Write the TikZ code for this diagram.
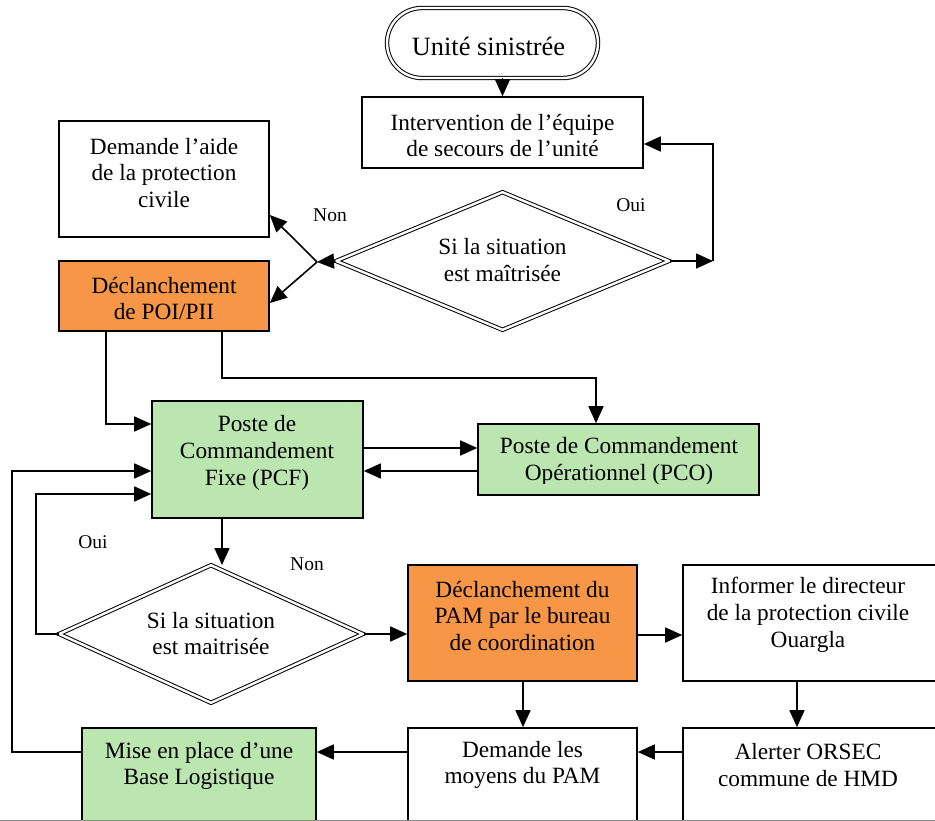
\documentclass[tikz,border=0pt]{standalone}
\usepackage{fontspec}
\setmainfont{Liberation Serif}
\usetikzlibrary{arrows.meta,shapes.geometric}
\definecolor{orangebox}{RGB}{247,150,70}
\definecolor{greenbox}{RGB}{188,230,176}
\begin{document}
\begin{tikzpicture}[x=1pt,y=-1pt,
  box/.style={draw=black,line width=1.6pt,rectangle,inner sep=0pt},
  txt/.style={align=center,inner sep=0pt,font=\fontsize{23.3}{26.8}\selectfont},
  lbl/.style={inner sep=0pt,font=\fontsize{19.5}{22}\selectfont},
  arr/.style={draw=black,line width=1.6pt,-{Triangle[length=17pt,width=15pt]}},
  dbl/.style={draw=black,double=white,double distance=2.4pt,line width=1pt,inner sep=0pt}
]
\useasboundingbox (0,0) rectangle (935,821);
\clip (0,0) rectangle (935,821);

% boxes
\node[dbl,rectangle,rounded corners=35pt,minimum width=211pt,minimum height=70pt] (term) at (492.5,43) {};
\node[box,minimum width=281pt,minimum height=71pt] (interv) at (502.5,132.5) {};
\node[dbl,diamond,minimum width=333pt,minimum height=138pt] (d1) at (502.5,261) {};
\node[box,minimum width=210pt,minimum height=116pt] (aide) at (164,179) {};
\node[box,fill=orangebox,minimum width=210pt,minimum height=70pt] (poi) at (164,296) {};
\node[box,fill=greenbox,minimum width=211pt,minimum height=117pt] (pcf) at (257.5,459.5) {};
\node[box,fill=greenbox,minimum width=281pt,minimum height=71pt] (pco) at (618.5,459.5) {};
\node[dbl,diamond,minimum width=304pt,minimum height=138pt] (d2) at (211,634) {};
\node[box,fill=orangebox,minimum width=229pt,minimum height=116pt] (pam) at (522.5,623) {};
\node[box,minimum width=262pt,minimum height=116pt] (inf) at (814,623) {};
\node[box,minimum width=229pt,minimum height=100pt] (moy) at (522.5,778) {};
\node[box,minimum width=262pt,minimum height=100pt] (alert) at (814,778) {};
\node[box,fill=greenbox,minimum width=234pt,minimum height=100pt] (mise) at (199,778) {};
\draw[draw=black!45,line width=0.8pt] (0,820.5) -- (935,820.5);

% texts
\node[txt,font=\fontsize{26.4}{30}\selectfont] (tterm) at (488.5,46) {Unité sinistrée};
\node[txt] (tinterv) at (502.5,135.5) {Intervention de l’équipe\\de secours de l’unité};
\node[txt] (td1) at (502.5,260) {Si la situation\\est maîtrisée};
\node[txt] (taide) at (164,173) {Demande l’aide\\de la protection\\civile};
\node[txt] (tpoi) at (164,298.5) {Déclanchement\\de POI/PII};
\node[txt] (tpcf) at (257,453) {Poste de\\Commandement\\Fixe (PCF)};
\begin{scope}
\clip (478,424) rectangle (759,483);
\node[txt] (tpco) at (619,461.5) {Poste de Commandement\\Opérationnel (PCO)};
\end{scope}
\node[txt] (td2) at (211,633.5) {Si la situation\\est maitrisée};
\node[txt] (tpam) at (522.5,616) {Déclanchement du\\PAM par le bureau\\de coordination};
\node[txt] (tinf) at (808,615) {Informer le directeur\\de la protection civile\\Ouargla};
\node[txt] (tmoy) at (522.5,765) {Demande les\\moyens du PAM};
\node[txt] (talert) at (808,765) {Alerter ORSEC\\commune de HMD};
\node[txt] (tmise) at (199,766) {Mise en place d’une\\Base Logistique};

% labels
\node[lbl] (lnon1) at (330,215) {Non};
\node[lbl] (loui1) at (631,205) {Oui};
\node[lbl] (loui2) at (93,542) {Oui};
\node[lbl] (lnon2) at (307,564) {Non};

% coordinates
\coordinate (c1) at (713,261);
\coordinate (c1b) at (713,144);
\coordinate (nj) at (317,262);

% connectors
\draw[arr] (term.south -| interv.north) -- (interv.north);
\draw[arr] (d1.east) -- (c1);
\draw[arr] (c1) -- (c1b) -- (interv.east |- c1b);
\draw[arr] (d1.west) -- (nj);
\draw[arr] (nj) -- (aide.east |- 0,215);
\draw[arr] (nj) -- (poi.east |- 0,303);
\draw[arr] (poi.south -| 106,0) |- (pcf.west |- 0,424);
\draw[arr] (poi.south -| 222,0) -- (222,378) -| (pco.north -| 596,0);
\draw[arr] (pcf.east |- 0,448) -- (pco.west |- 0,448);
\draw[arr] (pco.west |- 0,471) -- (pcf.east |- 0,471);
\draw[arr] (pcf.south -| 222,0) -- (222,565);
\draw[arr] (d2.west) -- (36,634) |- (pcf.west |- 0,494);
\draw[arr] (d2.east) -- (pam.west |- d2.east);
\draw[arr] (pam.east |- 0,635) -- (inf.west |- 0,635);
\draw[arr] (pam.south -| 523,0) -- (moy.north -| 523,0);
\draw[arr] (inf.south -| 797,0) -- (alert.north -| 797,0);
\draw[arr] (alert.west |- 0,752) -- (moy.east |- 0,752);
\draw[arr] (moy.west |- 0,752) -- (mise.east |- 0,752);
\draw[arr] (mise.west |- 0,752) -- (12,752) |- (pcf.west |- 0,471);
\end{tikzpicture}
\end{document}
